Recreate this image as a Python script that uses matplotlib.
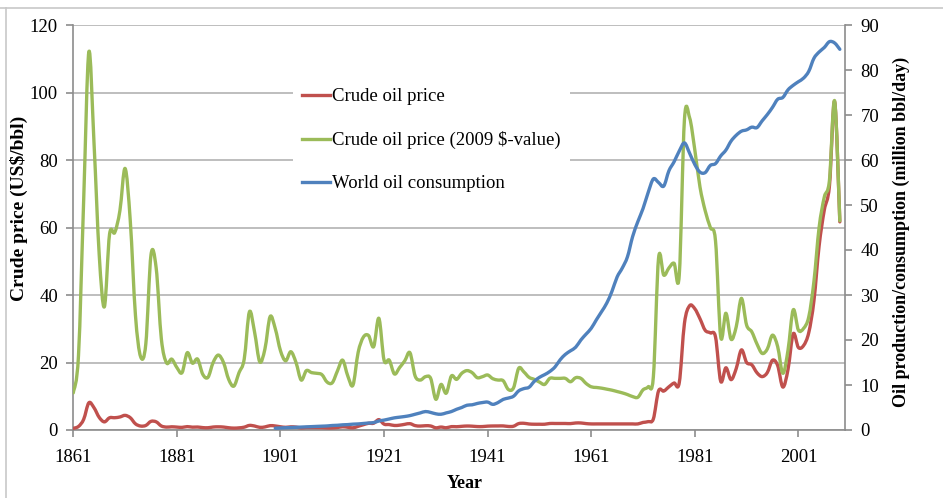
import matplotlib
matplotlib.use("Agg")
import matplotlib.pyplot as plt
from matplotlib.path import Path
from matplotlib.patches import PathPatch
from matplotlib.lines import Line2D
import numpy as np

plt.rcParams['font.family'] = ['Liberation Serif', 'DejaVu Serif']

# ---------------- data ----------------
price_years = list(range(1861, 2010))
price_nominal = [
    0.5, 1.05, 3.15, 8.06, 6.59, 3.74, 2.41, 3.63, 3.64, 3.86,          # 1861-1870
    4.34, 3.64, 1.83, 1.17, 1.35, 2.56, 2.42, 1.19, 0.86, 0.95,         # 1871-1880
    0.86, 0.78, 1.00, 0.84, 0.88, 0.71, 0.67, 0.88, 0.94, 0.87,         # 1881-1890
    0.67, 0.56, 0.64, 0.84, 1.36, 1.18, 0.79, 0.91, 1.29, 1.19,         # 1891-1900
    0.96, 0.80, 0.94, 0.86, 0.62, 0.73, 0.72, 0.72, 0.70, 0.61,         # 1901-1910
    0.61, 0.74, 0.95, 0.81, 0.64, 1.10, 1.56, 1.98, 2.01, 3.07,         # 1911-1920
    1.73, 1.61, 1.34, 1.43, 1.68, 1.88, 1.30, 1.17, 1.27, 1.19,         # 1921-1930
    0.65, 0.87, 0.67, 1.00, 0.97, 1.09, 1.18, 1.13, 1.02, 1.02,         # 1931-1940
    1.14, 1.19, 1.20, 1.21, 1.05, 1.12, 1.90, 1.99, 1.78, 1.71,         # 1941-1950
    1.71, 1.71, 1.93, 1.93, 1.93, 1.93, 1.90, 2.08, 2.08, 1.90,         # 1951-1960
    1.80, 1.80, 1.80, 1.80, 1.80, 1.80, 1.80, 1.80, 1.80, 1.80,         # 1961-1970
    2.24, 2.48, 3.29, 11.58, 11.53, 12.80, 13.92, 14.02, 31.61, 36.83,  # 1971-1980
    35.93, 32.97, 29.55, 28.78, 27.56, 14.43, 18.44, 14.92, 18.23, 23.73,  # 1981-1990
    20.00, 19.32, 16.97, 15.82, 17.02, 20.67, 19.09, 12.72, 17.97, 28.50,  # 1991-2000
    24.44, 25.02, 28.83, 38.27, 54.52, 65.14, 72.39, 97.26, 61.67,         # 2001-2009
]
price_2009 = [
    11.0, 22.0, 68.0, 112.0, 85.0, 52.0, 36.5, 58.0, 58.5, 65.0,        # 1861-1870
    77.5, 62.0, 34.0, 21.7, 25.5, 51.9, 48.0, 27.0, 19.9, 21.0,         # 1871-1880
    18.5, 17.0, 22.9, 19.8, 21.0, 16.5, 15.6, 20.0, 22.2, 20.0,         # 1881-1890
    15.0, 13.0, 17.0, 21.0, 35.0, 29.0, 20.2, 24.0, 33.6, 30.0,         # 1891-1900
    23.5, 20.5, 23.2, 20.0, 14.8, 17.6, 17.0, 16.8, 16.4, 14.2,         # 1901-1910
    14.0, 17.5, 20.7, 16.0, 13.3, 23.0, 27.5, 28.0, 24.7, 33.1,         # 1911-1920
    20.7, 20.7, 16.6, 18.5, 20.5, 22.9, 16.0, 14.8, 15.8, 15.3,         # 1921-1930
    9.1, 13.5, 10.9, 16.0, 15.0, 16.8, 17.6, 17.0, 15.5, 15.8,          # 1931-1940
    16.3, 15.2, 14.8, 14.6, 12.0, 12.5, 18.3, 17.2, 15.6, 15.0,         # 1941-1950
    14.2, 13.5, 15.3, 15.3, 15.3, 15.3, 14.3, 15.5, 15.3, 13.8,         # 1951-1960
    12.8, 12.6, 12.4, 12.1, 11.8, 11.4, 11.0, 10.5, 9.9, 9.7,           # 1961-1970
    11.9, 12.8, 15.8, 50.9, 45.9, 48.0, 49.4, 45.9, 92.0, 92.5,         # 1971-1980
    83.0, 72.0, 65.0, 60.0, 56.0, 27.6, 34.6, 26.9, 30.6, 39.0,         # 1981-1990
    31.1, 29.1, 25.5, 22.7, 24.0, 28.1, 24.7, 16.8, 23.7, 35.6,         # 1991-2000
    29.6, 30.1, 33.5, 44.0, 60.0, 69.0, 74.0, 97.5, 62.0,               # 2001-2009
]
cons_years = list(range(1900, 2010))
consumption = [
    0.40, 0.45, 0.50, 0.55, 0.60, 0.65, 0.70, 0.75, 0.80, 0.85,         # 1900-1909
    0.90, 1.00, 1.05, 1.15, 1.20, 1.30, 1.35, 1.45, 1.55, 1.65,         # 1910-1919
    2.00, 2.20, 2.45, 2.70, 2.85, 3.00, 3.20, 3.50, 3.80, 4.10,         # 1920-1929
    3.90, 3.60, 3.50, 3.80, 4.10, 4.60, 5.00, 5.50, 5.60, 5.90,         # 1930-1939
    6.10, 6.20, 5.70, 6.10, 6.80, 7.10, 7.50, 8.70, 9.20, 9.50,         # 1940-1949
    10.8, 11.7, 12.3, 13.0, 14.0, 15.6, 16.8, 17.6, 18.4, 20.0,         # 1950-1959
    21.3, 22.6, 24.5, 26.3, 28.2, 30.8, 34.0, 36.0, 38.5, 43.0,         # 1960-1969
    46.3, 49.2, 52.8, 55.8, 55.0, 54.2, 57.6, 59.6, 62.0, 63.8,         # 1970-1979
    61.5, 59.0, 57.3, 57.2, 58.8, 59.2, 60.9, 62.2, 64.2, 65.5,         # 1980-1989
    66.4, 66.7, 67.3, 67.2, 68.7, 70.1, 71.7, 73.5, 73.9, 75.6,         # 1990-1999
    76.6, 77.4, 78.2, 79.7, 82.6, 84.0, 85.0, 86.3, 86.0, 84.6,         # 2000-2009
]
series_labels = ["Crude oil price", "Crude oil price (2009 $-value)", "World oil consumption"]
xticks = [1861, 1881, 1901, 1921, 1941, 1961, 1981, 2001]
left_ticks = [0, 20, 40, 60, 80, 100, 120]
right_ticks = [0, 10, 20, 30, 40, 50, 60, 70, 80, 90]

RED = "#C0504D"
GREEN = "#9BBB59"
BLUE = "#4F81BD"
GRID = "#b3b3b3"
AXC = "#8c8c8c"


def smooth_path(xs, ys):
    """Catmull-Rom smoothed path (cubic Bezier segments) through the points."""
    p = np.column_stack([np.asarray(xs, float), np.asarray(ys, float)])
    n = len(p)
    verts = [p[0]]
    codes = [Path.MOVETO]
    for i in range(n - 1):
        p0 = p[i - 1] if i > 0 else p[i]
        p1 = p[i]
        p2 = p[i + 1]
        p3 = p[i + 2] if i + 2 < n else p[i + 1]
        c1 = p1 + (p2 - p0) / 6.0
        c2 = p2 - (p3 - p1) / 6.0
        verts += [c1, c2, p2]
        codes += [Path.CURVE4] * 3
    return Path(verts, codes)


fig = plt.figure(figsize=(9.43, 4.98), dpi=100)
W, H = 943.0, 498.0
x0, x1, y0, y1 = 73.3, 845.0, 25.0, 430.0
ax = fig.add_axes([x0 / W, 1 - y1 / H, (x1 - x0) / W, (y1 - y0) / H])
ax.set_xlim(1861, 2010)
ax.set_ylim(0, 120)
ax2 = ax.twinx()
ax2.set_ylim(0, 90)

# outer chart-area frame (top and left visible)
fig.add_artist(Line2D([0, 1], [1 - 8 / H, 1 - 8 / H], transform=fig.transFigure, color="#c8c8c8", lw=1.2))
fig.add_artist(Line2D([6 / W, 6 / W], [0, 1 - 8 / H], transform=fig.transFigure, color="#c8c8c8", lw=1.2))

# grid
ax.set_yticks(left_ticks)
ax.yaxis.grid(True, color=GRID, lw=1.2)
ax.set_axisbelow(True)

lw = 2.4
ax.add_patch(PathPatch(smooth_path(price_years, price_nominal), fill=False, edgecolor=RED,
                       lw=lw, capstyle='round', joinstyle='round', zorder=3))
ax.add_patch(PathPatch(smooth_path(price_years, price_2009), fill=False, edgecolor=GREEN,
                       lw=lw, capstyle='round', joinstyle='round', zorder=4))
ax2.add_patch(PathPatch(smooth_path(cons_years, consumption), fill=False, edgecolor=BLUE,
                        lw=lw, capstyle='round', joinstyle='round', zorder=5))

# axes styling
for a in (ax, ax2):
    a.spines["top"].set_visible(False)
    for s in ("left", "right", "bottom"):
        a.spines[s].set_color(AXC)
        a.spines[s].set_linewidth(1.2)
ax.spines["right"].set_visible(False)
ax2.spines["left"].set_visible(False)
ax2.spines["bottom"].set_visible(False)

FS = 13.5
LFS = 13
ax.set_xticks(xticks)
ax.set_xticklabels([str(t) for t in xticks])
ax.tick_params(axis='x', direction='out', length=5, width=1.2, color=AXC, labelsize=FS, pad=9)
ax.tick_params(axis='y', direction='out', length=5, width=1.2, color=AXC, labelsize=FS, pad=6)
ax2.set_yticks(right_ticks)
ax2.tick_params(axis='y', direction='out', length=5, width=1.2, color=AXC, labelsize=FS, pad=6)

ax.set_xlabel("Year", fontsize=LFS, fontweight='bold')
ax.xaxis.set_label_coords(0.5076, -0.112)
ax.set_ylabel("Crude price (US$/bbl)", fontsize=14, fontweight='bold')
ax.yaxis.set_label_coords(-0.0585, 0.546)
ax2.set_ylabel("Oil production/consumption (million bbl/day)", fontsize=LFS, fontweight='bold',
               rotation=90)
ax2.yaxis.set_label_coords(1.062, 0.489)

handles = [Line2D([], [], color=c, lw=lw) for c in (RED, GREEN, BLUE)]
leg = ax2.legend(handles, series_labels, loc='upper left', bbox_to_anchor=(0.272, 0.89),
                 frameon=True, fontsize=FS, labelspacing=1.38, handlelength=1.5,
                 handletextpad=0.1, borderpad=0.5, fancybox=False)
leg.get_frame().set_edgecolor('none')
leg.get_frame().set_facecolor('white')
leg.get_frame().set_alpha(1.0)
leg.set_zorder(10)

fig.savefig("out.png", dpi=100)
